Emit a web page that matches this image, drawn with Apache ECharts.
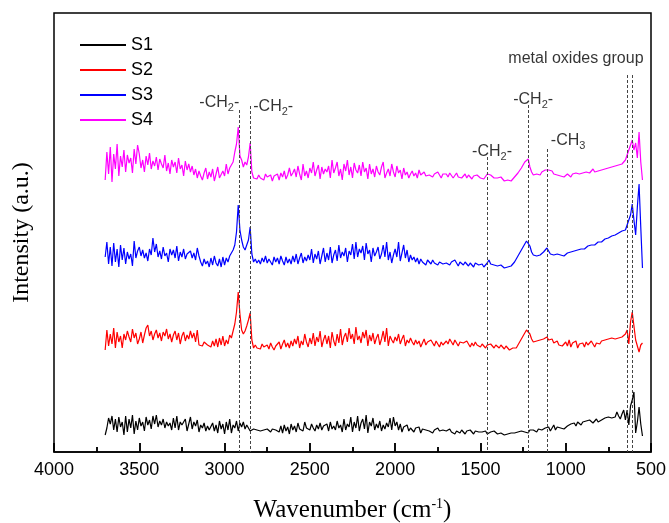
<!DOCTYPE html>
<html>
<head>
<meta charset="utf-8">
<script src="https://cdn.jsdelivr.net/npm/echarts@6/dist/echarts.min.js"></script>
<style>
html,body{margin:0;padding:0;background:#fff;}
#chart{width:669px;height:523px;}
</style>
</head>
<body>
<div id="chart"></div>
<script>
// Wavenumber sampling grid (cm-1): 3700 down to 550, every 10
const waveStart = 3700;
const waveStep = 10;

const seriesNames = ['S1', 'S2', 'S3', 'S4'];
const seriesColors = ['#000000', '#ff0000', '#0000ff', '#ff00ff'];

// Intensity (a.u.), one value per grid point
const s1 = [
17,24,34,28,36,22,33,20,35,25,
30,17,36,20,33,24,37,18,31,22,
34,26,30,21,35,27,32,23,36,28,
37,25,31,27,33,24,30,26,29,22,
34,24,36,22,30,27,25,33,21,28,
35,23,30,26,32,20,27,24,29,21,
26,22,24,29,21,27,19,31,23,28,
18,30,22,33,19,27,24,31,21,29,
25,30,23,27,24,21,22,23,21,22,
22,21,23,22,21,23,22,20,23,21,
22,24,20,26,19,27,21,25,18,28,
22,26,20,29,23,25,21,30,24,26,
22,28,24,21,27,23,29,22,26,24,
28,21,30,23,26,22,31,24,27,20,
33,22,28,25,35,20,30,24,36,21,
29,33,23,37,19,30,26,34,22,28,
24,31,21,27,23,29,25,34,22,35,
26,30,22,28,20,25,23,27,21,24,
26,20,24,22,25,19,23,21,22,20,
21,23,19,22,20,24,21,19,22,20,
21,19,23,20,22,18,21,20,19,22,
20,18,21,19,22,20,18,21,19,20,
18,20,19,21,18,19,20,18,21,19,
18,17,19,18,17,16,18,17,19,18,
19,18,20,19,21,19,20,21,19,22,
20,22,21,20,23,21,22,20,24,22,
25,21,24,27,22,25,23,24,25,23,
24,26,25,28,27,29,26,30,28,27,
30,28,31,29,32,30,29,31,33,30,
31,32,30,34,33,35,33,34,32,35,
40,36,33,38,42,32,42,27,46,52,
60,19,30,45,28,16
];

const s2 = [
102,122,106,118,108,124,104,120,110,116,
104,118,112,121,115,110,123,114,119,108,
113,120,109,117,124,127,116,121,112,118,
122,114,119,111,120,116,123,113,118,110,
117,121,112,119,108,116,120,111,117,113,
121,114,119,110,122,107,109,106,110,108,
107,109,105,111,106,113,105,114,107,116,
106,112,108,117,114,121,128,140,160,138,
122,118,121,126,132,139,112,104,107,104,
106,103,108,105,104,107,103,109,105,102,
106,104,110,103,108,112,105,109,104,111,
106,113,108,116,104,111,107,118,110,105,
114,108,119,106,115,110,121,105,112,117,
108,116,104,120,111,106,118,109,123,107,
115,119,110,124,113,118,108,125,112,116,
109,120,114,122,106,117,111,119,108,114,
118,107,113,121,110,124,106,116,112,109,
115,111,118,108,113,117,106,112,109,114,
110,107,112,108,111,105,109,113,107,110,
108,112,109,106,111,108,105,110,107,109,
111,108,113,110,107,112,109,106,110,108,
109,107,111,108,105,109,106,110,107,108,
105,108,106,104,107,105,108,106,104,107,
106,104,107,105,103,106,104,102,101,104,
106,104,107,110,113,116,119,122,124,118,
113,110,109,111,110,112,111,113,112,115,
112,110,113,109,108,111,107,109,106,108,
110,106,112,105,109,107,111,104,108,106,
109,105,110,107,106,111,108,105,109,107,
108,111,109,112,110,113,111,114,112,113,
112,114,113,115,114,118,122,108,130,140,
126,112,106,100,107,109
];

const s3 = [
195,210,188,205,186,209,190,203,185,207,
192,204,188,200,193,198,186,211,194,201,
205,196,202,194,199,191,203,197,214,200,
208,195,201,193,205,196,199,190,203,197,
202,194,206,191,200,195,203,193,198,196,
201,194,199,192,204,196,190,186,193,188,
191,185,194,187,196,189,186,193,185,195,
187,194,190,196,197,202,207,220,247,222,
212,205,202,207,212,225,198,190,193,189,
192,188,194,190,196,189,193,191,187,195,
190,194,188,196,191,187,195,189,193,188,
196,190,198,188,194,199,189,195,191,197,
192,203,189,198,193,201,188,196,204,190,
199,192,205,189,197,202,191,207,194,200,
196,204,190,201,197,208,193,210,195,203,
199,206,192,209,198,202,190,204,196,200,
205,193,198,207,195,210,192,200,189,197,
203,195,210,191,199,207,194,202,190,197,
192,195,190,194,188,193,190,191,187,192,
190,188,192,189,191,187,190,192,188,190,
189,191,187,190,188,192,189,186,190,188,
187,190,188,186,189,187,185,189,191,187,
186,188,185,187,189,192,188,186,187,185,
186,185,187,186,184,186,185,187,186,185,
190,193,196,199,202,205,208,211,212,206,
200,197,195,196,198,197,199,200,202,204,
201,198,199,197,196,198,196,197,195,196,
197,199,198,200,199,201,200,202,201,203,
204,203,205,206,205,207,208,207,209,210,
211,210,212,213,212,214,215,216,215,217,
218,219,220,221,223,222,227,232,237,248,
232,217,245,268,225,184
];

const s4 = [
272,300,278,305,270,298,283,308,276,296,
285,302,280,297,289,294,279,303,288,307,
298,284,292,280,296,287,299,283,291,286,
295,282,293,288,284,297,281,289,278,292,
285,290,279,294,283,287,276,291,282,288,
280,286,277,283,274,281,276,272,279,284,
273,280,275,283,271,278,285,274,272,281,
276,288,278,284,287,290,300,308,325,296,
292,285,290,287,295,309,280,274,276,273,
277,274,276,272,278,275,273,277,271,276,
274,278,272,279,275,281,273,277,284,276,
279,283,275,286,278,272,288,276,281,274,
284,279,290,276,282,287,273,285,278,283,
280,286,274,292,279,284,290,276,283,272,
288,281,292,277,285,274,289,282,279,287,
276,290,280,284,273,288,278,283,275,286,
280,277,285,290,274,279,283,276,288,280,
275,286,279,282,273,284,277,280,274,278,
281,276,279,274,282,277,275,280,276,278,
277,279,275,278,276,280,277,274,278,276,
278,275,279,277,274,276,279,275,277,274,
276,278,274,277,275,273,276,274,277,275,
274,276,273,275,278,280,277,275,274,276,
274,272,275,273,271,270,272,274,271,273,
275,277,279,281,284,287,290,292,293,285,
280,277,276,278,279,277,280,281,282,284,
282,280,281,278,279,277,278,276,277,275,
276,278,277,275,278,276,279,277,278,280,
279,281,280,282,279,281,283,280,282,281,
283,282,284,283,285,284,286,285,287,286,
288,287,289,288,290,292,292,302,307,312,
302,309,294,320,290,272
];

// Axis range and tick positions (cm-1)
const xMin = 500, xMax = 4000, xInterval = 500;
const yMin = 0, yMax = 439;
const majorTicks = [4000, 3500, 3000, 2500, 2000, 1500, 1000, 500];
const minorTicks = [3750, 3250, 2750, 2250, 1750, 1250, 750];
const majorTickLen = 9;  // in intensity units
const minorTickLen = 5;

// Dashed marker lines: wavenumber and top intensity
const markWaves = [2915, 2848, 1460, 1220, 1110, 640, 610];
const markTops  = [342, 346, 295, 347, 303, 377, 377];

// Annotations: wavenumber, intensity, text
const annotWaves = [3031, 2715, 1432, 1191, 986, 940];
const annotVals  = [349, 345, 300, 352, 311, 393];
const annotTexts = ['-CH{sub|2}-', '-CH{sub|2}-', '-CH{sub|2}-', '-CH{sub|2}-', '-CH{sub|3}', 'metal oxides group'];

const sansFont = "'Liberation Sans', Arial, sans-serif";
const serifFont = "'Liberation Serif', 'Times New Roman', serif";

function toPairs(vals) {
  return vals.map((v, i) => [waveStart - i * waveStep, v]);
}

const allVals = [s1, s2, s3, s4];

const series = allVals.map((vals, k) => ({
  name: seriesNames[k],
  type: 'line',
  data: toPairs(vals),
  symbol: 'none',
  showSymbol: false,
  animation: false,
  lineStyle: { color: seriesColors[k], width: 1.2 },
  itemStyle: { color: seriesColors[k] },
  z: 3
}));

const subRich = {
  sub: { fontSize: 11, fontFamily: sansFont, color: '#000', padding: [9, 0, 0, 0] }
};

series.push({
  name: 'annotations',
  type: 'scatter',
  symbolSize: 0,
  silent: true,
  animation: false,
  data: annotWaves.map((w, i) => ({
    value: [w, annotVals[i]],
    label: {
      show: true,
      position: 'inside',
      formatter: annotTexts[i],
      fontSize: 16,
      fontFamily: sansFont,
      color: '#000',
      rich: subRich
    }
  })),
  markLine: {
    silent: true,
    symbol: 'none',
    animation: false,
    label: { show: false },
    lineStyle: { color: '#444', width: 1, type: [3, 2] },
    data: markWaves.map((w, i) => [{ coord: [w, markTops[i]] }, { coord: [w, 0] }])
  },
  z: 2
});

// Inward axis ticks drawn in data space
series.push({
  name: 'ticks',
  type: 'scatter',
  symbolSize: 0,
  silent: true,
  animation: false,
  data: majorTicks.map(v => [v, 0]),
  markLine: {
    silent: true,
    symbol: 'none',
    animation: false,
    label: { show: false },
    lineStyle: { color: '#000', width: 1.5, type: 'solid' },
    data: majorTicks.map(v => [{ coord: [v, 0] }, { coord: [v, majorTickLen] }])
      .concat(minorTicks.map(v => [{ coord: [v, 0] }, { coord: [v, minorTickLen] }]))
  },
  z: 4
});

const chart = echarts.init(document.getElementById('chart'), null, { renderer: 'canvas' });
chart.setOption({
  backgroundColor: '#ffffff',
  animation: false,
  grid: {
    left: 54, right: 18, top: 13, bottom: 71,
    outerBoundsMode: 'none', containLabel: false,
    show: true, borderColor: '#000', borderWidth: 1.5
  },
  legend: {
    data: seriesNames,
    orient: 'vertical',
    left: 80,
    top: 36,
    padding: 0,
    itemWidth: 46,
    itemHeight: 14,
    itemGap: 7,
    icon: 'path://M0,0 L46,0 L46,2 L0,2 Z',
    textStyle: { fontSize: 18, fontFamily: sansFont, color: '#000', lineHeight: 18 }
  },
  xAxis: {
    type: 'value',
    min: xMin, max: xMax, interval: xInterval,
    inverse: true,
    name: 'Wavenumber (cm{sup|-1})',
    nameLocation: 'middle',
    nameGap: 45,
    nameTextStyle: {
      fontSize: 25, fontFamily: serifFont, color: '#000',
      rich: { sup: { fontSize: 14, fontFamily: serifFont, color: '#000', padding: [0, 0, 13, 0] } }
    },
    axisLine: { show: true, lineStyle: { color: '#000', width: 1.5 } },
    axisTick: { show: true, inside: true, length: 9, lineStyle: { color: '#000', width: 1.5 } },
    minorTick: { show: true, splitNumber: 2, length: 5, lineStyle: { color: '#000', width: 1.5 } },
    axisLabel: {
      fontSize: 18, fontFamily: sansFont, color: '#000', margin: 9,
      formatter: (v) => String(v)
    },
    splitLine: { show: false }
  },
  yAxis: {
    type: 'value',
    min: yMin, max: yMax,
    name: 'Intensity (a.u.)',
    nameLocation: 'middle',
    nameGap: 20,
    nameTextStyle: { fontSize: 24, fontFamily: serifFont, color: '#000' },
    axisLine: { show: false },
    axisTick: { show: false },
    axisLabel: { show: false },
    splitLine: { show: false }
  },
  series: series
});
</script>
</body>
</html>
